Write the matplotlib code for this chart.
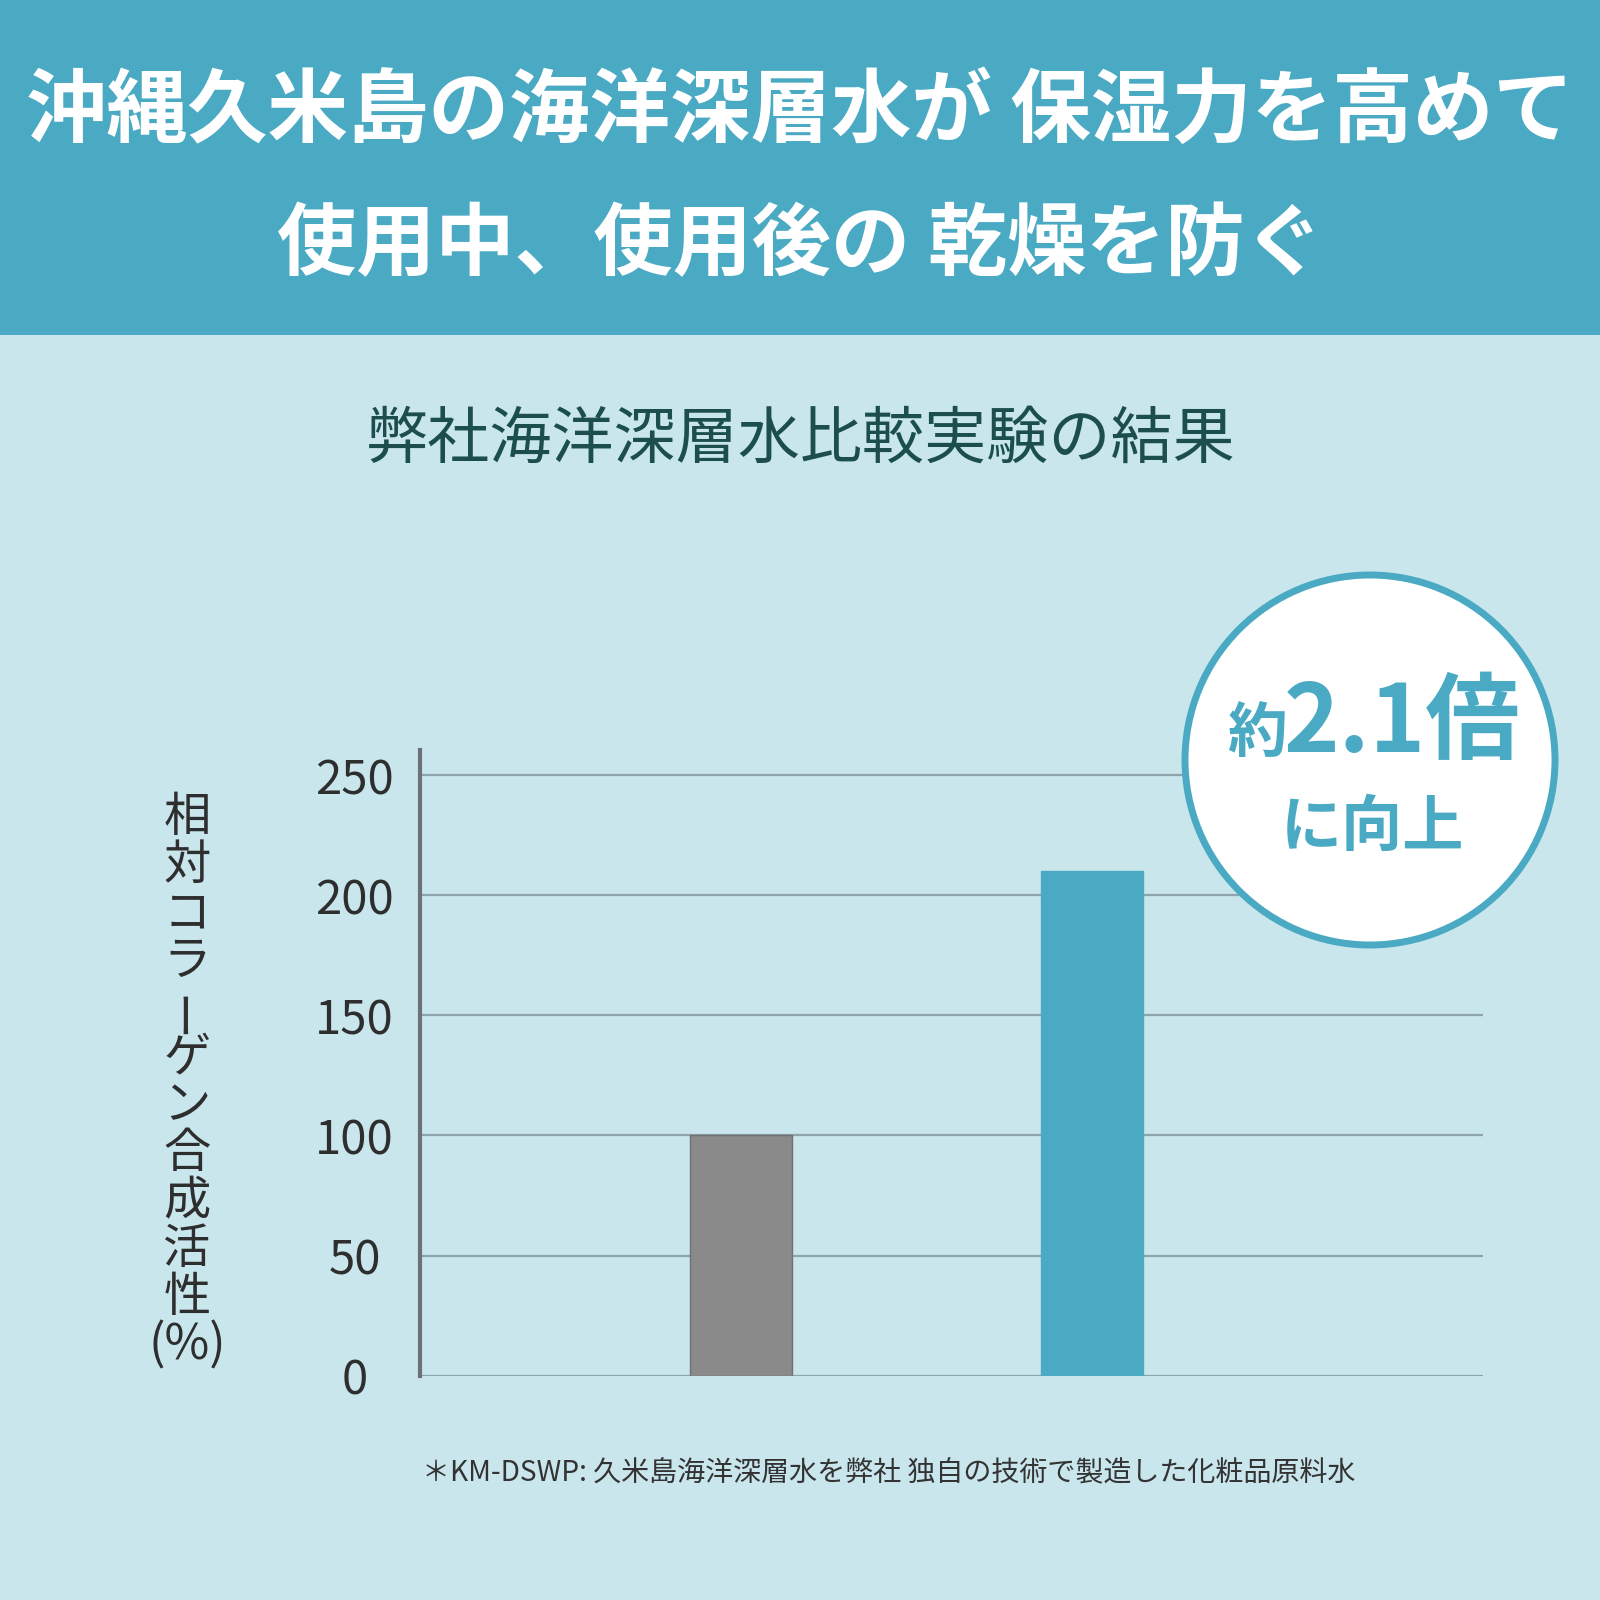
import matplotlib
matplotlib.use("Agg")
import matplotlib.pyplot as plt
from matplotlib.patches import Rectangle, Circle

plt.rcParams['font.family'] = ['Noto Sans CJK JP', 'DejaVu Sans']

# data
categories = ["比較対象", "KM-DSWP"]
values = [100, 210]
bar_colors = ["#8a8a8a", "#4aaac3"]
yticks = [0, 50, 100, 150, 200, 250]

title_lines = ["沖縄久米島の海洋深層水が 保湿力を高めて", "使用中、使用後の 乾燥を防ぐ"]
subtitle = "弊社海洋深層水比較実験の結果"
ylabel_chars = list("相対コラーゲン合成活性") + ["(%)"]
footnote = "＊KM-DSWP: 久米島海洋深層水を弊社 独自の技術で製造した化粧品原料水"

BLUE = "#4aaac3"
BG = "#c9e6ed"
W = 1600.0


def fx(x):
    return x / W


def fy(y):
    return 1 - y / W


fig = plt.figure(figsize=(16, 16), dpi=100)
fig.patch.set_facecolor(BG)

# banner
fig.add_artist(Rectangle((0, fy(335)), 1, 335 / W, transform=fig.transFigure,
                         facecolor=BLUE, edgecolor="none", zorder=0))
fig.text(0.5, fy(112), title_lines[0], ha="center", va="center", color="white",
         fontsize=58, fontweight="bold")
fig.text(0.5, fy(246), title_lines[1], ha="center", va="center", color="white",
         fontsize=57, fontweight="bold")

fig.text(fx(801), fy(440), subtitle, ha="center", va="center", color="#1c4e4e",
         fontsize=44.7)

# axes
ax = fig.add_axes([0.2625, 0.1403, 0.927 - 0.2625, 0.53125 - 0.1403])
ax.set_facecolor("none")
ax.bar(range(len(values)), values, width=0.291, color=bar_colors,
       edgecolor=["#707070", bar_colors[1]], linewidth=1, zorder=3)
ax.set_xlim(-0.917, 2.116)
ax.set_ylim(0, 260.6)
ax.set_yticks(yticks)
ax.set_xticks([])
ax.yaxis.grid(True, color="#8fa3ab", linewidth=1.6, zorder=0)
ax.set_axisbelow(True)
for s in ["top", "right", "bottom"]:
    ax.spines[s].set_visible(False)
ax.spines["left"].set_color("#6b7177")
ax.spines["left"].set_linewidth(3)
ax.tick_params(axis="y", length=0, pad=47, labelsize=34, labelcolor="#2e2e2e")
for t in ax.yaxis.get_major_ticks():
    t.label1.set_ha("center")
    t.label1.set_va("center_baseline")

# y label, stacked vertically (long vowel mark turned upright)
for i, ch in enumerate(ylabel_chars):
    rot = 90 if ch == "ー" else 0
    fig.text(fx(187), fy(818 + i * 48), ch, ha="center", va="center",
             color="#2e2e2e", fontsize=34 if ch != "(%)" else 35, rotation=rot)

# badge
fig.add_artist(Circle((fx(1370), fy(760)), 185 / W, transform=fig.transFigure,
                      facecolor="white", edgecolor=BLUE, linewidth=5, zorder=5))
fig.text(fx(1287), fy(752), "約", ha="right", va="baseline", color=BLUE,
         fontsize=43, fontweight="bold", zorder=6)
fig.text(fx(1284), fy(752), "2.1倍", ha="left", va="baseline", color=BLUE,
         fontsize=68, fontweight="bold", zorder=6)
fig.text(fx(1372), fy(828), "に向上", ha="center", va="center", color=BLUE,
         fontsize=44, fontweight="bold", zorder=6)

fig.text(fx(889), fy(1473), footnote, ha="center", va="center", color="#333333",
         fontsize=20.2)

fig.savefig("out.png", dpi=100, facecolor=BG)
